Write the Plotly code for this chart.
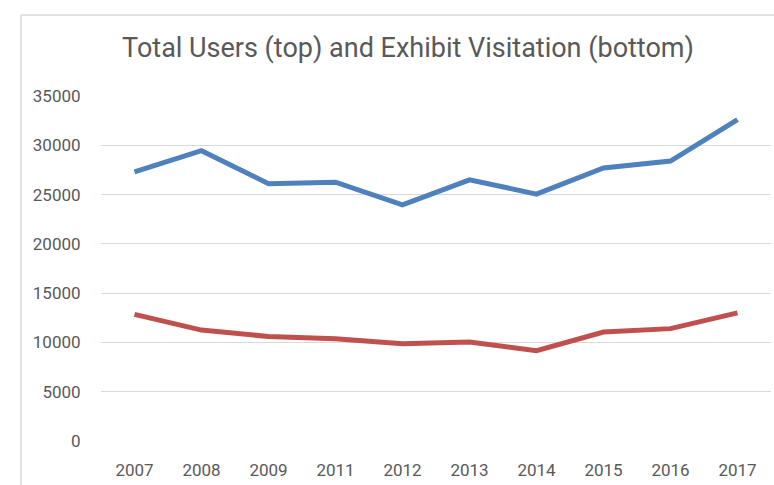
import plotly.graph_objects as go

years = ["2007", "2008", "2009", "2011", "2012", "2013", "2014", "2015", "2016", "2017"]
total_users = [27300, 29450, 26100, 26250, 23950, 26500, 25050, 27700, 28400, 32600]
exhibit_visitation = [12850, 11250, 10600, 10380, 9870, 10040, 9160, 11050, 11400, 13000]
y_ticks = [0, 5000, 10000, 15000, 20000, 25000, 30000, 35000]

W, H = 774, 485
L, R, T, B = 101, 3, 96, 44
pw, ph = W - L - R, H - T - B

fig = go.Figure()
fig.add_trace(go.Scatter(x=years, y=total_users, mode="lines",
                         line=dict(color="#4F81BD", width=5), name="Total Users"))
fig.add_trace(go.Scatter(x=years, y=exhibit_visitation, mode="lines",
                         line=dict(color="#C0504D", width=5), name="Exhibit Visitation"))

font_fam = "Roboto, 'Open Sans', sans-serif"

def px_x(p):
    return (p - L) / pw

def px_y(p):
    return (H - B - p) / ph

fig.update_layout(
    width=W, height=H,
    margin=dict(l=L, r=R, t=T, b=B),
    paper_bgcolor="white", plot_bgcolor="white",
    showlegend=False,
    title=dict(text="Total Users (top) and Exhibit Visitation (bottom)",
               x=408 / W, xanchor="center", y=1 - 48 / H, yanchor="middle",
               font=dict(family=font_fam, size=27, color="#595959")),
    xaxis=dict(type="category", range=[-0.5, len(years) - 0.5],
               showgrid=False, zeroline=False, showline=False,
               tickfont=dict(family=font_fam, size=17, color="#595959"),
               ticks="outside", ticklen=14, tickcolor="rgba(0,0,0,0)"),
    yaxis=dict(range=[0, 35000], tickvals=y_ticks, tickformat="d",
               showgrid=True, gridcolor="#d9d9d9",
               gridwidth=1.2, zeroline=False, showline=False,
               tickfont=dict(family=font_fam, size=17, color="#595959"),
               ticks="outside", ticklen=16, tickcolor="rgba(0,0,0,0)"),
    shapes=[
        dict(type="line", xref="paper", yref="paper",
             x0=px_x(21), x1=px_x(W + 5), y0=px_y(15), y1=px_y(15),
             line=dict(color="#d9d9d9", width=1.5)),
        dict(type="line", xref="paper", yref="paper",
             x0=px_x(21), x1=px_x(21), y0=px_y(15), y1=px_y(H + 5),
             line=dict(color="#d9d9d9", width=1.5)),
    ],
)

fig.write_html("out.html", config={"displayModeBar": False},
               post_script="document.body.style.margin='0';document.body.style.overflow='hidden';")
